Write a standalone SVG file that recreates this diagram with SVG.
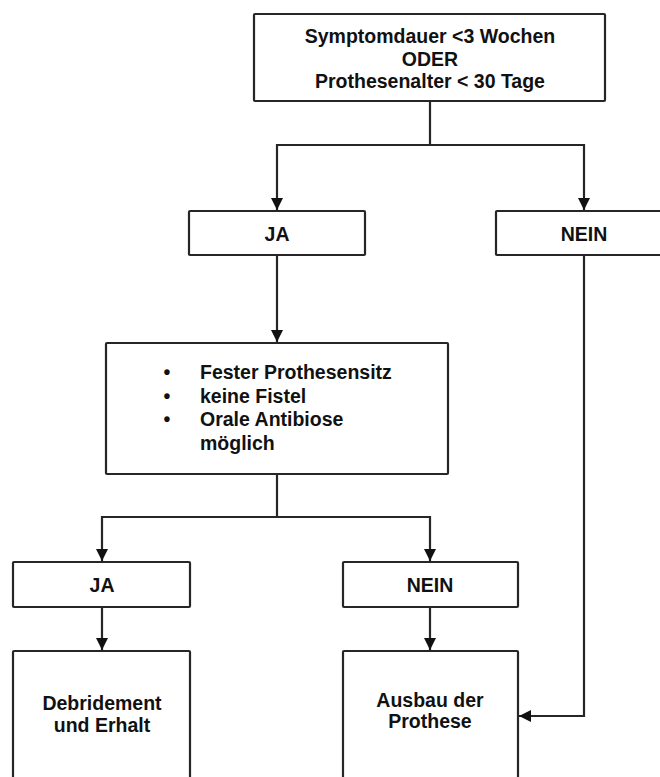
<svg xmlns="http://www.w3.org/2000/svg" width="660" height="777" viewBox="0 0 660 777">
<style>
.box{fill:#fff;stroke:#262626;stroke-width:2.2}
.lbl{font-family:"Liberation Sans",Arial,sans-serif;font-weight:bold;font-size:19.5px;fill:#111;text-anchor:middle}
.lft{text-anchor:start}
.con{fill:none;stroke:#262626;stroke-width:2.2}
</style>
<defs>
<marker id="arr" markerUnits="userSpaceOnUse" markerWidth="13" markerHeight="12" refX="12" refY="6" orient="auto">
<path d="M0,0 L12,6 L0,12 z" fill="#111"/>
</marker>
</defs>
<rect width="660" height="777" fill="#fff"/>
<g id="connectors">
<path class="con" d="M430,101 V145 H277 V210" marker-end="url(#arr)"/>
<path class="con" d="M430,145 H584 V210" marker-end="url(#arr)"/>
<path class="con" d="M277,255 V342" marker-end="url(#arr)"/>
<path class="con" d="M277,474 V517 H102 V561" marker-end="url(#arr)"/>
<path class="con" d="M277,517 H430 V561" marker-end="url(#arr)"/>
<path class="con" d="M102,607 V650" marker-end="url(#arr)"/>
<path class="con" d="M430,607 V650" marker-end="url(#arr)"/>
<path class="con" d="M584,255 V716 H519" marker-end="url(#arr)"/>
</g>
<g id="n_start">
<rect class="box" x="254" y="14" width="351" height="87" rx="1"/>
<text class="lbl" x="430" y="43">Symptomdauer &lt;3 Wochen</text>
<text class="lbl" x="430" y="66">ODER</text>
<text class="lbl" x="430" y="88">Prothesenalter &lt; 30 Tage</text>
</g>
<g id="n_ja1">
<rect class="box" x="189" y="211" width="176" height="44" rx="1"/>
<text class="lbl" x="277" y="241">JA</text>
</g>
<g id="n_nein1">
<rect class="box" x="496" y="211" width="176" height="44" rx="1"/>
<text class="lbl" x="584" y="241">NEIN</text>
</g>
<g id="n_check">
<rect class="box" x="106" y="343" width="342" height="131" rx="1"/>
<text class="lbl" x="167" y="379">•</text>
<text class="lbl" x="167" y="402.5">•</text>
<text class="lbl" x="167" y="426">•</text>
<text class="lbl lft" x="200" y="379">Fester Prothesensitz</text>
<text class="lbl lft" x="200" y="402.5">keine Fistel</text>
<text class="lbl lft" x="200" y="426">Orale Antibiose</text>
<text class="lbl lft" x="200" y="449.5">möglich</text>
</g>
<g id="n_ja2">
<rect class="box" x="13" y="562" width="177" height="45" rx="1"/>
<text class="lbl" x="102" y="592">JA</text>
</g>
<g id="n_nein2">
<rect class="box" x="343" y="562" width="175" height="45" rx="1"/>
<text class="lbl" x="430" y="592">NEIN</text>
</g>
<g id="n_debridement">
<rect class="box" x="13" y="651" width="177" height="140" rx="1"/>
<text class="lbl" x="102" y="710">Debridement</text>
<text class="lbl" x="102" y="732">und Erhalt</text>
</g>
<g id="n_ausbau">
<rect class="box" x="343" y="651" width="175" height="140" rx="1"/>
<text class="lbl" x="430" y="707">Ausbau der</text>
<text class="lbl" x="430" y="728">Prothese</text>
</g>
</svg>
